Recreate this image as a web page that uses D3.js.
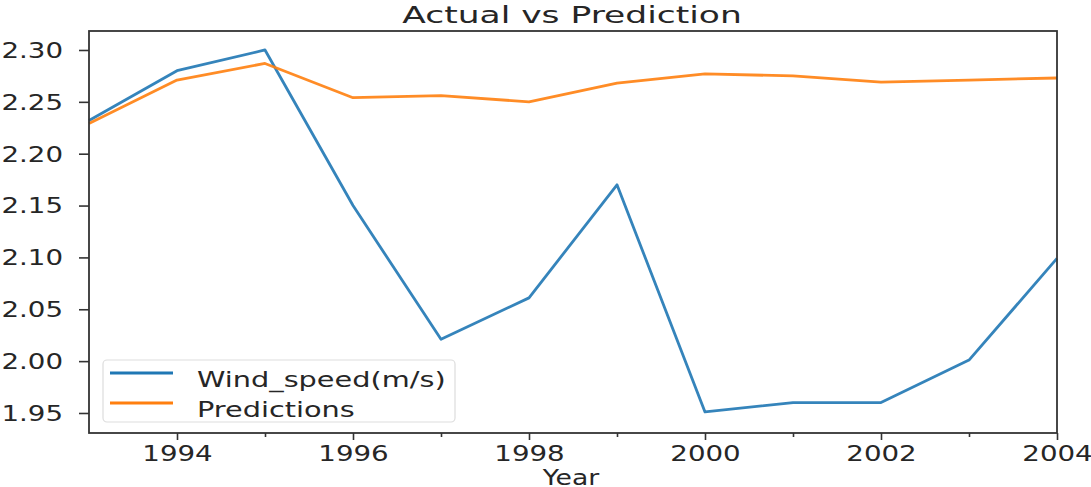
<!DOCTYPE html>
<html><head><meta charset="utf-8">
<script src="https://cdn.jsdelivr.net/npm/d3@7"></script>
<style>body{margin:0;background:#fff;} text{font-family:"DejaVu Sans",sans-serif;fill:#262626;}</style>
</head><body><svg id="c" width="1091" height="487"></svg>
<script>
const years = [1993,1994,1995,1996,1997,1998,1999,2000,2001,2002,2003,2004];
const windSpeed = [2.232,2.280,2.300,2.150,2.021,2.061,2.170,1.951,1.960,1.960,2.001,2.099];
const predictions = [2.229,2.271,2.287,2.254,2.256,2.250,2.268,2.277,2.275,2.269,2.271,2.273];
const xMajorTicks = [1994,1996,1998,2000,2002,2004];
const xMinorTicks = [1995,1997,1999,2001,2003];
const yTicks = [1.95,2.00,2.05,2.10,2.15,2.20,2.25,2.30];
const seriesNames = ["Wind_speed(m/s)","Predictions"];
const colors = ["#1f77b4","#ff7f0e"];

const svg = d3.select("#c");
const L=89,R=1057,T=31,B=433;
const SX=1.35; // horizontal stretch of the reference
const x = d3.scaleLinear().domain([1993,2004]).range([L,R]);
const y = d3.scaleLinear().domain([1.9307,2.3183]).range([B,T]);

const line = d3.line().x((d,i)=>x(years[i])).y(d=>y(d));
[windSpeed,predictions].forEach((s,k)=>{
  svg.append("path").datum(s).attr("d",line).attr("fill","none")
    .attr("stroke",colors[k]).attr("stroke-width",2.8).attr("stroke-linejoin","round").attr("opacity",0.9);
});

// axes
svg.append("g").attr("transform",`translate(0,${B})`)
  .call(d3.axisBottom(x).tickValues(xMajorTicks).tickFormat(d3.format("d")).tickSize(7).tickPadding(6))
  .call(g=>g.selectAll(".tick text").attr("font-size",20.5).attr("transform",`scale(${SX},1)`));
svg.append("g").attr("transform",`translate(0,${B})`)
  .call(d3.axisBottom(x).tickValues(xMinorTicks).tickFormat("").tickSize(4));
svg.append("g").attr("transform",`translate(${L},0)`)
  .call(d3.axisLeft(y).tickValues(yTicks).tickFormat(d3.format(".2f")).tickSize(10).tickPadding(6))
  .call(g=>g.selectAll(".tick text").attr("font-size",20.5).attr("x",-26/SX).attr("dy","0.36em").attr("transform",`scale(${SX},1)`));
svg.selectAll(".tick line").attr("stroke","#333").attr("stroke-width",1.6);
svg.selectAll(".tick text").attr("fill","#262626").style("font-family","DejaVu Sans");
svg.selectAll(".domain").remove();
svg.append("rect").attr("x",L).attr("y",T).attr("width",R-L).attr("height",B-T)
  .attr("fill","none").attr("stroke","#333").attr("stroke-width",1.8);

function stretchedText(tx,ty,str,size,sx,anchor){
  return svg.append("text").attr("transform",`translate(${tx},${ty}) scale(${sx},1)`)
    .attr("text-anchor",anchor).attr("font-size",size).text(str);
}
stretchedText(572,23,"Actual vs Prediction",23,1.5,"middle");
stretchedText(571,485,"Year",20.5,1.3,"middle");

// legend
const lg = svg.append("g");
lg.append("rect").attr("x",103).attr("y",360).attr("width",352).attr("height",62).attr("rx",4)
  .attr("fill","#fff").attr("fill-opacity",0.8).attr("stroke","#ddd").attr("stroke-width",1.2);
seriesNames.forEach((n,i)=>{
  const yy = 373 + i*30;
  lg.append("line").attr("x1",110).attr("x2",173).attr("y1",yy).attr("y2",yy).attr("stroke",colors[i]).attr("stroke-width",2.8);
  stretchedText(197,yy+14,n,21,1.37,"start");
});
</script></body></html>
